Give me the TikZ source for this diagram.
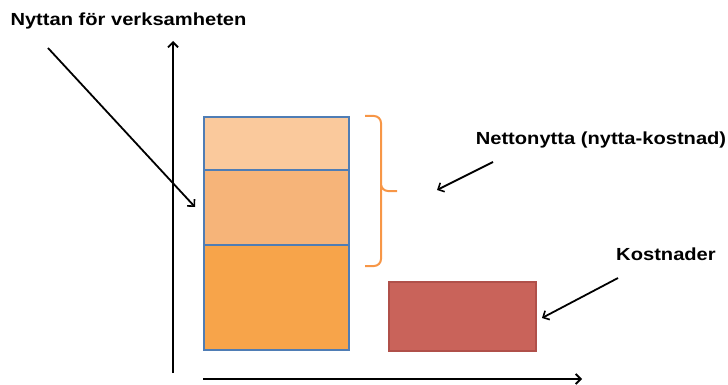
\documentclass[tikz,border=0pt]{standalone}
\usepackage{fontspec}
\setmainfont{Liberation Sans}
\usetikzlibrary{arrows.meta}
\definecolor{baredge}{HTML}{4F7DB5}
\definecolor{fillA}{HTML}{FAC99C}
\definecolor{fillB}{HTML}{F6B479}
\definecolor{fillC}{HTML}{F7A44A}
\definecolor{braceor}{HTML}{F79646}
\definecolor{costfill}{HTML}{C9635A}
\definecolor{costedge}{HTML}{B0504A}
\tikzset{
  axis/.style={line width=2.3pt, -{Straight Barb[length=5pt,width=10pt,line width=1.8pt]}},
  pointer/.style={line width=1.8pt, -{Straight Barb[length=5pt,width=10pt,line width=1.6pt]}},
  barpart/.style={draw=baredge, line width=2.3pt, anchor=north west, inner sep=0pt, minimum width=145pt},
  label/.style={font=\bfseries\fontsize{17.5}{20}\selectfont, inner sep=0pt},
}
\begin{document}
\begin{tikzpicture}[x=1pt, y=-1pt]
\useasboundingbox (0,0) rectangle (728,385);

% axes
\coordinate (yb) at (173,373);
\coordinate (yt) at (173,41);
\coordinate (xl) at (203,379);
\coordinate (xr) at (582,379);
\draw[axis] (yb) -- (yt);
\draw[axis] (xl) -- (xr);

% stacked bar
\node[barpart, fill=fillC, minimum height=105pt] (low) at (203,244) {};
\node[barpart, fill=fillB, minimum height=75pt] (mid) at (203,169) {};
\node[barpart, fill=fillA, minimum height=53pt] (top) at (203,116) {};

% cost box
\node[draw=costedge, fill=costfill, line width=1.8pt, anchor=north west, inner sep=0pt,
      minimum width=147pt, minimum height=69pt] (cost) at (388,281) {};

% brace
\draw[braceor, line width=2pt, rounded corners=7pt]
  (365,116) -- (381,116) -- (381,191) -- (397,191);
\draw[braceor, line width=2pt, rounded corners=7pt]
  (381,185) -- (381,266) -- (365,266);

% labels
\node[label] (nyttan) at (128.5,21) {\scalebox{1.15}[1]{Nyttan för verksamheten}};
\node[label] (netto) at (601,140) {\scalebox{1.15}[1]{Nettonytta (nytta-kostnad)}};
\node[label] (kost) at (666,254) {\scalebox{1.15}[1]{Kostnader}};

% pointers
\coordinate (p1s) at (48,48);
\coordinate (p1e) at (195,207);
\coordinate (p2s) at (493,162);
\coordinate (p2e) at (437,190);
\coordinate (p3s) at (618,278);
\coordinate (p3e) at (542,318);
\draw[pointer] (p1s) -- (p1e);
\draw[pointer] (p2s) -- (p2e);
\draw[pointer] (p3s) -- (p3e);
\end{tikzpicture}
\end{document}
